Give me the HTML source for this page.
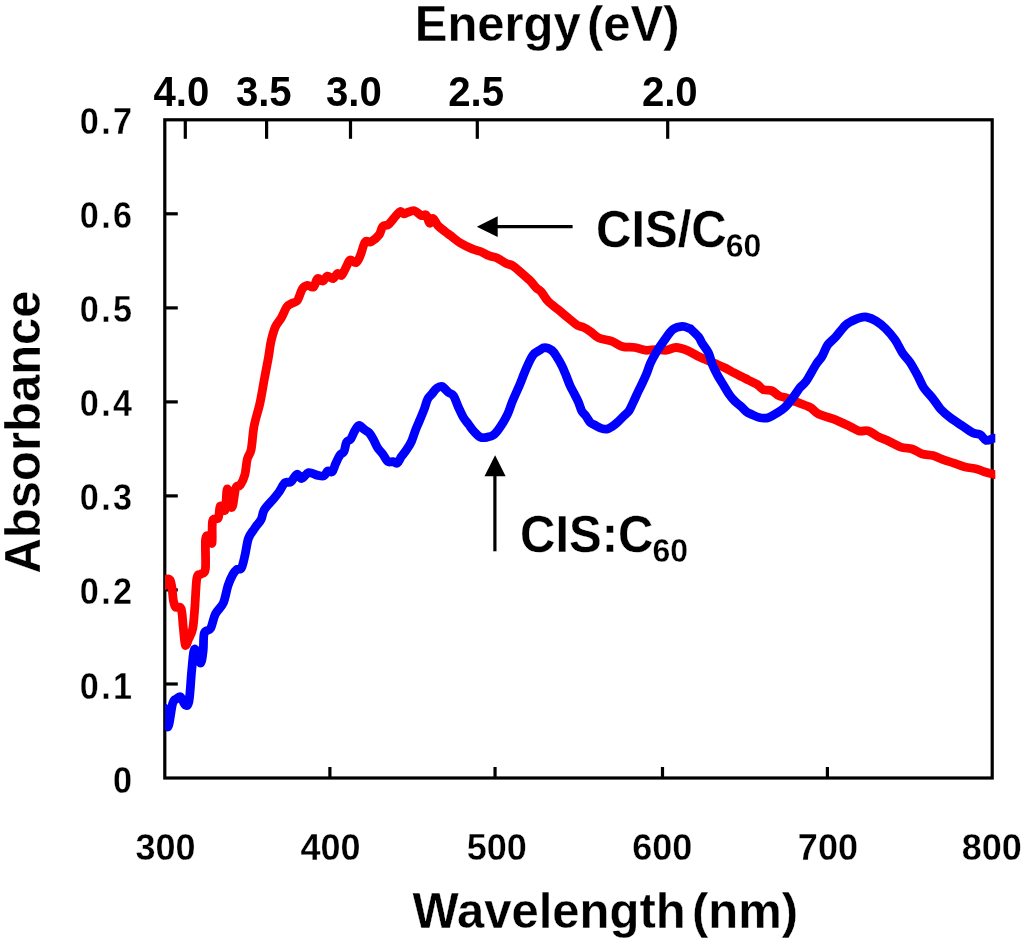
<!DOCTYPE html>
<html><head><meta charset="utf-8"><style>
html,body{margin:0;padding:0;background:#fff;}
body{width:1024px;height:948px;overflow:hidden;}
svg{display:block;will-change:transform;}
text{font-family:"Liberation Sans", sans-serif;font-weight:bold;fill:#000;stroke:#fff;stroke-width:0.3px;}
.yl{font-size:36px;letter-spacing:2.5px;}
.xl{font-size:36px;}
.tl{font-size:41px;stroke-width:0;}
.ti{font-size:49px;}
.sub{font-size:32px;}
</style></head><body>
<svg width="1024" height="948" viewBox="0 0 1024 948">
<rect width="1024" height="948" fill="#fff"/>
<rect x="164.8" y="119.8" width="827.4000000000001" height="658.2" fill="none" stroke="#000" stroke-width="3.2"/>
<line x1="164.8" y1="684.0" x2="177.8" y2="684.0" stroke="#000" stroke-width="3.2"/>
<line x1="164.8" y1="589.9" x2="177.8" y2="589.9" stroke="#000" stroke-width="3.2"/>
<line x1="164.8" y1="495.9" x2="177.8" y2="495.9" stroke="#000" stroke-width="3.2"/>
<line x1="164.8" y1="401.9" x2="177.8" y2="401.9" stroke="#000" stroke-width="3.2"/>
<line x1="164.8" y1="307.9" x2="177.8" y2="307.9" stroke="#000" stroke-width="3.2"/>
<line x1="164.8" y1="213.8" x2="177.8" y2="213.8" stroke="#000" stroke-width="3.2"/>
<line x1="329.9" y1="778.0" x2="329.9" y2="767.0" stroke="#000" stroke-width="3.2"/>
<line x1="495.05" y1="778.0" x2="495.05" y2="767.0" stroke="#000" stroke-width="3.2"/>
<line x1="662.5" y1="778.0" x2="662.5" y2="767.0" stroke="#000" stroke-width="3.2"/>
<line x1="827.4" y1="778.0" x2="827.4" y2="767.0" stroke="#000" stroke-width="3.2"/>
<line x1="185.3" y1="119.8" x2="185.3" y2="138.8" stroke="#000" stroke-width="3.2"/>
<line x1="266.6" y1="119.8" x2="266.6" y2="138.8" stroke="#000" stroke-width="3.2"/>
<line x1="350.5" y1="119.8" x2="350.5" y2="138.8" stroke="#000" stroke-width="3.2"/>
<line x1="477.3" y1="119.8" x2="477.3" y2="138.8" stroke="#000" stroke-width="3.2"/>
<line x1="667.7" y1="119.8" x2="667.7" y2="138.8" stroke="#000" stroke-width="3.2"/>
<defs><clipPath id="pc"><rect x="165.0" y="0" width="830.3" height="948"/></clipPath></defs><g clip-path="url(#pc)">
<path d="M164.0 586.0 C164.4 584.9 165.5 580.5 166.5 579.5 C167.5 578.5 169.1 578.6 170.0 580.0 C170.9 581.4 171.4 584.7 172.0 588.0 C172.6 591.3 172.7 596.8 173.3 600.0 C173.9 603.2 174.2 605.5 175.5 607.0 C176.8 608.5 179.8 605.4 181.1 608.7 C182.4 612.0 182.5 620.7 183.2 626.7 C183.9 632.8 184.4 642.9 185.3 645.0 C186.2 647.1 187.3 642.0 188.5 639.3 C189.7 636.6 191.6 634.1 192.7 628.8 C193.8 623.5 194.1 616.2 194.8 607.7 C195.5 599.2 195.9 583.7 196.9 578.1 C197.9 572.5 199.7 575.5 201.1 574.0 C202.5 572.5 204.7 574.7 205.4 569.0 C206.1 563.3 205.0 545.5 205.5 540.0 C206.0 534.5 207.4 535.5 208.5 536.0 C209.6 536.5 211.3 545.5 212.0 543.0 C212.7 540.5 211.6 525.2 212.6 521.0 C213.6 516.8 216.9 520.5 218.2 518.0 C219.5 515.5 219.1 507.3 220.3 506.0 C221.5 504.7 224.0 512.8 225.2 510.0 C226.4 507.2 226.2 489.4 227.3 489.0 C228.4 488.6 230.5 507.7 231.9 507.5 C233.3 507.3 234.4 491.7 235.8 488.0 C237.2 484.3 238.8 487.3 240.3 485.1 C241.8 482.9 243.7 479.0 244.9 474.6 C246.1 470.2 246.2 463.2 247.3 459.0 C248.4 454.8 250.1 454.7 251.2 449.3 C252.3 443.9 252.6 434.1 254.0 426.5 C255.4 418.9 258.1 411.3 259.8 403.7 C261.5 396.1 262.6 388.6 264.0 381.0 C265.4 373.4 267.1 364.8 268.3 358.2 C269.5 351.6 269.9 346.3 271.1 341.1 C272.3 335.9 273.7 330.7 275.4 326.9 C277.1 323.1 279.2 321.6 281.1 318.3 C283.0 315.0 285.1 309.4 286.8 306.9 C288.5 304.4 289.7 304.6 291.5 303.5 C293.3 302.4 295.6 303.0 297.4 300.5 C299.2 298.0 300.7 291.2 302.4 288.7 C304.1 286.2 305.7 285.6 307.5 285.3 C309.3 285.0 311.7 288.1 313.4 287.0 C315.1 285.9 316.0 279.6 317.6 278.6 C319.2 277.6 321.4 281.5 323.0 281.1 C324.6 280.7 325.6 276.5 327.3 276.1 C329.0 275.7 331.5 279.0 333.2 278.6 C334.9 278.2 336.0 274.1 337.4 273.5 C338.8 272.9 340.1 276.4 341.6 275.2 C343.2 273.9 345.3 268.5 346.7 266.0 C348.1 263.5 348.4 260.6 350.0 260.0 C351.6 259.4 354.3 263.3 356.0 262.6 C357.7 261.9 358.7 259.2 360.2 255.8 C361.7 252.4 363.4 244.2 365.2 241.9 C367.0 239.6 368.7 243.1 371.0 241.9 C373.3 240.7 377.2 237.4 379.2 234.8 C381.1 232.2 381.1 228.3 382.7 226.6 C384.3 224.8 386.5 226.1 388.6 224.3 C390.8 222.6 393.7 218.2 395.6 216.1 C397.6 213.9 398.9 211.8 400.3 211.4 C401.7 211.0 402.6 213.6 403.8 213.8 C405.0 214.0 405.5 213.1 407.3 212.6 C409.1 212.1 412.0 210.3 414.4 210.8 C416.8 211.3 419.4 214.8 421.4 215.5 C423.3 216.2 424.7 213.6 426.1 214.9 C427.5 216.2 428.4 222.5 429.6 223.1 C430.8 223.7 431.7 218.0 433.1 218.4 C434.5 218.8 435.9 223.3 437.8 225.5 C439.8 227.7 442.7 229.7 444.8 231.3 C446.9 233.0 447.7 233.5 450.3 235.4 C452.9 237.3 456.8 240.8 460.4 243.0 C464.0 245.2 468.8 247.5 472.2 248.9 C475.6 250.3 477.8 250.4 480.6 251.5 C483.4 252.6 486.2 254.6 489.0 255.7 C491.8 256.8 494.7 256.9 497.5 258.2 C500.3 259.5 503.5 262.0 506.0 263.3 C508.5 264.6 510.2 264.2 512.7 265.8 C515.2 267.4 518.3 270.2 521.1 272.6 C523.9 275.0 527.1 277.7 529.6 280.2 C532.1 282.7 534.3 285.8 536.3 287.8 C538.3 289.8 539.4 289.8 541.4 292.0 C543.4 294.2 545.3 298.4 548.1 301.3 C550.9 304.2 554.9 306.9 558.3 309.7 C561.7 312.5 565.3 315.6 568.4 318.1 C571.5 320.6 574.3 323.3 576.8 324.9 C579.3 326.4 581.3 326.3 583.6 327.4 C585.9 328.5 587.9 329.8 590.5 331.6 C593.1 333.4 595.5 336.4 599.0 338.0 C602.5 339.6 607.7 339.7 611.6 341.1 C615.5 342.5 618.3 345.3 622.2 346.4 C626.1 347.5 631.0 346.9 634.9 347.5 C638.8 348.1 641.9 349.8 645.4 350.2 C648.9 350.6 652.5 349.6 656.0 349.6 C659.5 349.6 663.2 350.6 666.5 350.2 C669.8 349.8 672.5 347.4 676.0 347.5 C679.5 347.6 683.5 348.9 687.6 350.6 C691.7 352.3 695.9 355.3 700.8 357.6 C705.7 359.9 712.8 362.6 716.9 364.3 C721.0 366.0 722.5 366.6 725.3 368.0 C728.1 369.4 731.0 371.2 733.8 372.7 C736.6 374.2 739.8 375.7 742.2 376.9 C744.7 378.1 746.0 378.9 748.5 380.1 C751.0 381.3 754.5 382.7 757.0 384.3 C759.5 385.9 760.8 388.6 763.3 389.6 C765.8 390.7 769.1 389.6 771.7 390.6 C774.3 391.7 776.6 394.7 779.1 395.9 C781.6 397.1 783.5 396.9 786.5 398.0 C789.5 399.1 793.0 400.6 797.0 402.2 C801.0 403.8 806.6 405.4 810.2 407.4 C813.8 409.4 814.7 412.1 818.5 414.0 C822.3 415.9 827.9 416.9 833.1 418.9 C838.3 420.9 845.2 424.2 849.5 426.2 C853.8 428.2 855.8 430.1 859.0 430.9 C862.2 431.7 865.3 429.9 868.5 430.9 C871.7 431.8 874.5 434.9 878.0 436.6 C881.5 438.4 885.5 439.6 889.3 441.4 C893.1 443.1 896.9 445.8 900.7 447.1 C904.5 448.4 908.6 447.9 912.1 449.0 C915.6 450.1 918.1 452.6 921.6 453.7 C925.1 454.8 929.5 454.7 933.0 455.6 C936.5 456.6 939.0 458.1 942.5 459.4 C946.0 460.7 950.1 461.9 953.9 463.2 C957.7 464.5 961.4 466.1 965.2 467.0 C969.0 467.9 973.4 468.1 976.6 468.9 C979.8 469.7 981.4 470.8 984.2 471.7 C987.1 472.6 991.4 473.8 993.7 474.3 C996.0 474.9 997.3 474.9 998.0 475.0" fill="none" stroke="#ff0000" stroke-width="8.8" stroke-linejoin="round" stroke-linecap="round"/>
<path d="M164.5 708.0 C165.1 711.2 166.6 727.8 168.0 727.0 C169.4 726.2 171.3 708.0 172.7 703.3 C174.1 698.6 175.0 700.0 176.3 699.0 C177.6 698.0 179.1 696.0 180.6 697.0 C182.1 698.0 183.9 704.3 185.3 705.0 C186.7 705.7 187.9 706.8 189.0 701.2 C190.1 695.6 190.8 679.9 191.6 671.6 C192.4 663.3 193.0 655.1 193.7 651.6 C194.4 648.1 194.8 648.6 195.9 650.5 C197.1 652.4 199.4 663.2 200.6 663.2 C201.8 663.2 202.6 655.5 203.2 650.5 C203.8 645.5 203.1 636.7 204.3 633.0 C205.5 629.3 208.8 631.5 210.6 628.3 C212.4 625.1 213.3 618.2 215.4 614.0 C217.5 609.8 221.2 607.7 223.3 603.0 C225.4 598.3 226.4 590.4 228.0 585.6 C229.6 580.9 231.3 577.2 232.8 574.5 C234.3 571.8 235.4 570.6 236.8 569.5 C238.2 568.4 240.1 570.3 241.4 568.0 C242.8 565.7 243.7 560.4 244.9 555.5 C246.1 550.6 246.9 542.9 248.4 538.5 C249.9 534.1 252.8 531.2 254.2 529.0 C255.6 526.8 255.8 526.6 257.0 525.0 C258.2 523.4 260.1 521.7 261.3 519.1 C262.5 516.5 262.3 513.0 264.4 509.6 C266.5 506.2 271.5 501.4 273.9 498.5 C276.3 495.6 277.1 494.6 279.0 492.0 C280.9 489.4 283.0 484.4 285.0 482.7 C287.0 481.0 288.8 483.3 290.8 481.9 C292.8 480.5 295.0 474.9 296.8 474.3 C298.6 473.7 299.8 478.8 301.8 478.5 C303.8 478.2 306.1 473.2 308.6 472.6 C311.1 472.0 314.5 474.5 317.0 475.1 C319.5 475.7 322.0 476.7 323.8 476.0 C325.6 475.3 326.3 471.7 327.7 471.0 C329.1 470.3 330.9 473.0 332.2 471.8 C333.5 470.6 334.3 466.5 335.6 463.7 C336.9 460.9 338.6 457.0 340.0 455.0 C341.4 453.0 342.9 453.6 344.0 451.5 C345.1 449.4 345.4 444.3 346.5 442.2 C347.6 440.1 349.4 440.9 350.8 438.9 C352.2 436.9 353.6 432.6 355.0 430.4 C356.4 428.1 357.6 425.5 359.2 425.4 C360.8 425.3 362.6 428.3 364.3 429.6 C366.0 430.9 367.8 431.3 369.3 433.0 C370.8 434.7 372.1 437.2 373.5 439.7 C374.9 442.2 376.2 445.7 377.8 448.1 C379.4 450.5 381.1 451.9 382.8 454.1 C384.5 456.4 386.2 460.4 387.9 461.6 C389.6 462.9 391.4 461.3 393.0 461.6 C394.6 461.9 395.8 464.1 397.2 463.3 C398.6 462.5 399.8 458.9 401.4 456.6 C402.9 454.4 404.8 452.3 406.5 449.8 C408.2 447.3 410.0 444.8 411.5 441.4 C413.0 438.0 414.3 433.2 415.7 429.6 C417.1 426.0 418.6 422.9 420.0 419.5 C421.4 416.1 422.9 412.7 424.2 409.3 C425.5 405.9 426.3 401.7 427.6 399.2 C428.9 396.7 430.3 395.9 431.8 394.1 C433.3 392.3 435.1 389.5 436.8 388.2 C438.5 386.9 440.0 385.8 441.9 386.5 C443.8 387.2 446.5 390.8 448.4 392.4 C450.3 393.9 451.8 393.3 453.5 395.8 C455.2 398.3 456.9 403.9 458.6 407.6 C460.3 411.3 461.9 415.0 463.6 417.8 C465.3 420.6 467.0 422.2 468.7 424.5 C470.4 426.8 471.8 429.2 473.8 431.3 C475.8 433.4 478.2 436.2 480.5 437.2 C482.8 438.2 485.1 437.6 487.3 437.2 C489.6 436.8 491.8 436.4 494.0 434.6 C496.2 432.8 498.6 429.6 500.8 426.2 C503.1 422.8 505.5 418.6 507.5 414.4 C509.5 410.2 510.6 405.7 512.6 400.9 C514.6 396.1 517.0 391.0 519.3 385.7 C521.5 380.4 523.9 373.9 526.1 368.8 C528.4 363.7 530.5 358.4 532.8 355.3 C535.0 352.2 537.6 351.6 539.6 350.3 C541.6 349.0 542.5 347.7 544.6 347.7 C546.7 347.7 550.0 348.8 552.1 350.5 C554.2 352.2 555.8 355.4 557.4 357.9 C559.0 360.4 560.2 362.5 561.6 365.3 C563.0 368.1 564.4 371.5 565.8 374.8 C567.2 378.1 568.6 382.2 570.0 385.4 C571.4 388.6 572.9 391.0 574.3 393.8 C575.7 396.6 577.3 399.4 578.5 402.2 C579.7 405.0 580.4 408.4 581.6 410.7 C582.8 413.0 584.5 414.1 585.9 416.0 C587.3 417.9 588.5 420.7 590.1 422.3 C591.7 423.9 593.6 424.4 595.4 425.4 C597.1 426.4 598.7 427.5 600.6 428.1 C602.5 428.7 605.1 429.4 607.0 429.1 C608.9 428.8 610.5 427.6 612.2 426.5 C614.0 425.4 615.6 424.1 617.5 422.3 C619.4 420.6 621.9 417.9 623.8 416.0 C625.7 414.1 627.5 413.0 629.1 410.7 C630.7 408.4 631.7 405.5 633.3 402.2 C634.9 398.9 637.0 393.9 638.6 390.6 C640.2 387.3 641.4 385.2 642.8 382.2 C644.2 379.2 645.7 375.9 647.0 372.7 C648.3 369.5 649.0 366.3 650.5 363.0 C652.0 359.7 653.7 356.5 656.0 352.7 C658.3 348.9 661.6 344.0 664.4 340.1 C667.2 336.2 669.8 331.8 672.8 329.5 C675.8 327.2 679.5 326.6 682.3 326.4 C685.1 326.2 688.2 328.0 689.7 328.5 C691.2 329.0 689.5 327.9 691.0 329.3 C692.5 330.7 696.9 334.8 698.8 337.1 C700.6 339.4 700.5 340.6 702.1 343.2 C703.7 345.8 706.6 349.0 708.4 352.7 C710.2 356.4 711.1 361.4 712.7 365.3 C714.3 369.2 716.0 372.4 717.9 375.9 C719.8 379.4 722.4 383.2 724.3 386.4 C726.2 389.6 727.8 392.4 729.5 394.9 C731.2 397.4 732.9 399.3 734.8 401.2 C736.7 403.1 739.2 404.8 741.1 406.5 C743.0 408.2 744.5 410.3 746.4 411.7 C748.3 413.1 750.6 413.9 752.7 414.9 C754.8 415.9 756.8 417.0 759.1 417.5 C761.4 418.0 764.0 418.5 766.5 418.1 C769.0 417.7 771.2 416.3 773.8 414.9 C776.4 413.5 779.8 411.5 782.3 409.6 C784.8 407.7 786.5 405.8 788.6 403.3 C790.7 400.9 793.0 397.5 794.9 394.9 C796.8 392.3 798.1 389.8 800.0 387.5 C801.9 385.2 803.6 384.8 806.3 381.0 C809.0 377.2 813.4 368.6 816.0 364.5 C818.6 360.4 819.9 359.9 821.9 356.6 C823.9 353.3 825.4 348.1 827.7 344.9 C830.0 341.6 832.6 340.4 835.5 337.1 C838.4 333.9 842.5 328.1 845.3 325.4 C848.0 322.7 849.7 322.2 852.0 321.0 C854.3 319.8 856.6 318.6 859.0 318.0 C861.4 317.4 863.8 316.6 866.6 317.1 C869.5 317.6 873.0 319.0 876.1 320.9 C879.2 322.8 882.4 325.4 885.5 328.5 C888.6 331.6 892.1 335.7 895.0 339.8 C897.9 343.9 900.1 349.3 902.6 353.1 C905.1 356.9 907.7 358.8 910.2 362.6 C912.7 366.4 915.6 371.8 917.8 375.9 C920.0 380.0 921.0 383.5 923.5 387.3 C926.0 391.1 930.1 395.1 933.0 398.7 C935.9 402.3 937.8 406.0 940.6 409.1 C943.5 412.2 946.6 414.9 950.1 417.6 C953.6 420.3 957.6 422.7 961.4 425.2 C965.2 427.7 969.6 431.2 972.8 432.8 C976.0 434.4 978.2 433.4 980.4 434.7 C982.6 436.0 983.9 439.8 986.1 440.4 C988.3 441.0 991.7 438.6 993.7 438.3 C995.7 438.0 997.3 438.5 998.0 438.5" fill="none" stroke="#0000ff" stroke-width="8.8" stroke-linejoin="round" stroke-linecap="round"/>
</g>
<line x1="497" y1="226.7" x2="572.6" y2="226.7" stroke="#000" stroke-width="3.2"/>
<polygon points="476.8,226.7 497.7,216.3 497.7,237.1" fill="#000"/>
<line x1="494.9" y1="476" x2="494.9" y2="551.3" stroke="#000" stroke-width="3.2"/>
<polygon points="495.1,455.2 484.5,476.3 505.6,476.3" fill="#000"/>
<text transform="translate(134.5 792.5) scale(0.95 1)" text-anchor="end" class="yl">0</text>
<text transform="translate(134.5 698.5) scale(0.95 1)" text-anchor="end" class="yl">0.1</text>
<text transform="translate(134.5 604.4) scale(0.95 1)" text-anchor="end" class="yl">0.2</text>
<text transform="translate(134.5 510.4) scale(0.95 1)" text-anchor="end" class="yl">0.3</text>
<text transform="translate(134.5 416.4) scale(0.95 1)" text-anchor="end" class="yl">0.4</text>
<text transform="translate(134.5 322.4) scale(0.95 1)" text-anchor="end" class="yl">0.5</text>
<text transform="translate(134.5 228.3) scale(0.95 1)" text-anchor="end" class="yl">0.6</text>
<text transform="translate(134.5 134.3) scale(0.95 1)" text-anchor="end" class="yl">0.7</text>
<text x="165.6" y="860.2" text-anchor="middle" class="xl">300</text>
<text x="330.5" y="860.2" text-anchor="middle" class="xl">400</text>
<text x="496.8" y="860.2" text-anchor="middle" class="xl">500</text>
<text x="662.3" y="860.2" text-anchor="middle" class="xl">600</text>
<text x="827.9" y="860.2" text-anchor="middle" class="xl">700</text>
<text x="991.7" y="860.2" text-anchor="middle" class="xl">800</text>
<text transform="translate(181.4 105.8) scale(0.98 1.05)" text-anchor="middle" class="tl">4.0</text>
<text transform="translate(263.8 105.8) scale(0.98 1.05)" text-anchor="middle" class="tl">3.5</text>
<text transform="translate(353.9 105.8) scale(0.98 1.05)" text-anchor="middle" class="tl">3.0</text>
<text transform="translate(476.2 105.8) scale(0.98 1.05)" text-anchor="middle" class="tl">2.5</text>
<text transform="translate(669.8 105.8) scale(0.98 1.05)" text-anchor="middle" class="tl">2.0</text>
<text transform="translate(414.7 41.3) scale(1 1.015)" class="ti">Energy</text>
<text transform="translate(587 41.3) scale(1 1.015)" class="ti">(eV)</text>
<text transform="translate(412.6 928) scale(1 1.015)" class="ti">Wavelength</text>
<text transform="translate(692 928) scale(1 1.015)" class="ti">(nm)</text>
<text transform="translate(39.9 432) rotate(-90) scale(1 1.015)" text-anchor="middle" class="ti">Absorbance</text>
<text transform="translate(596 246.6) scale(1 1.06)" class="ti">CIS/C<tspan class="sub" dx="-1" dy="9.8">60</tspan></text>
<text transform="translate(520 552) scale(1 1.06)" class="ti">CIS:C<tspan class="sub" dx="-1" dy="9.8">60</tspan></text>
</svg>
</body></html>
